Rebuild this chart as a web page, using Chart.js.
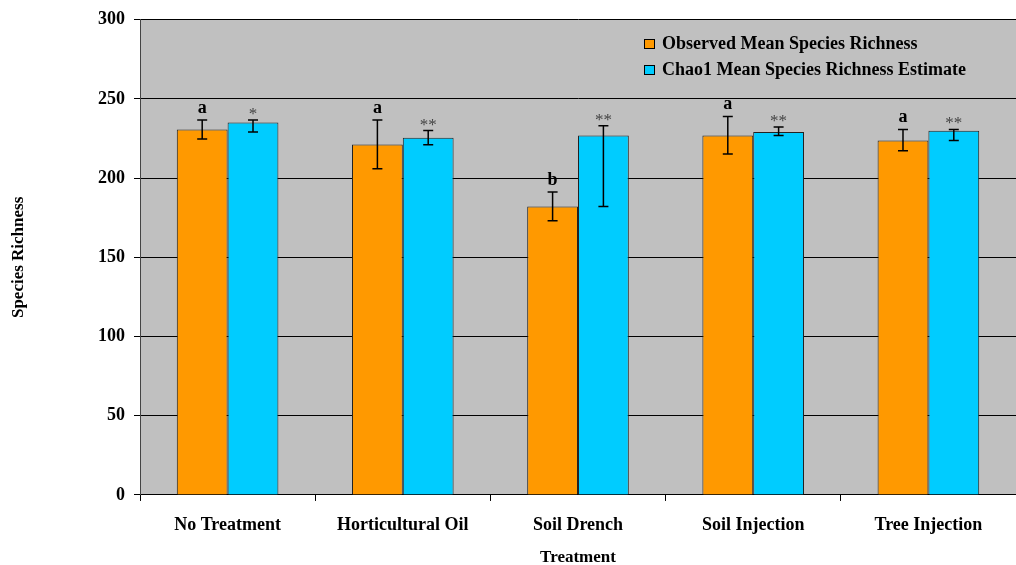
<!DOCTYPE html>
<html lang="en">
<head>
    <meta charset="UTF-8">
    <title>Species Richness by Treatment</title>
    <script src="https://cdn.jsdelivr.net/npm/chart.js"></script>
    <style>
        body { margin: 0; background: #fff; }
    </style>
</head>
<body>
    <canvas id="richnessChart" width="1016" height="565"></canvas>

    <script>
        const treatments = ['No Treatment', 'Horticultural Oil', 'Soil Drench', 'Soil Injection', 'Tree Injection'];

        const observed = [230.7, 221.3, 182.1, 227.0, 223.8];
        const observedLow = [224.7, 205.9, 173.1, 215.2, 217.3];
        const observedHigh = [236.7, 236.7, 191.2, 239.0, 230.8];
        const observedLetters = ['a', 'a', 'b', 'a', 'a'];

        const chao1 = [235.2, 225.5, 227.0, 229.1, 229.9];
        const chao1Low = [229.1, 221.1, 182.1, 227.0, 223.8];
        const chao1High = [236.7, 230.1, 233.1, 232.3, 230.8];
        const chao1Stars = ['*', '**', '**', '**', '**'];

        const yTicks = [0, 50, 100, 150, 200, 250, 300];

        const serif = "'Liberation Serif', 'Times New Roman', serif";

        // grey plot background
        const plotBg = {
            id: 'plotBg',
            beforeDraw(chart) {
                const a = chart.chartArea, ctx = chart.ctx;
                ctx.save();
                ctx.fillStyle = '#c0c0c0';
                ctx.fillRect(a.left, a.top, a.right - a.left, a.bottom - a.top);
                ctx.restore();
            }
        };

        // error bars + significance labels
        const errorBars = {
            id: 'errorBars',
            afterDatasetsDraw(chart) {
                const ctx = chart.ctx, y = chart.scales.y;
                const sets = [
                    { low: observedLow, high: observedHigh, text: observedLetters, font: 'bold 18px ' + serif, color: '#000', gap: 7 },
                    { low: chao1Low, high: chao1High, text: chao1Stars, font: '17px ' + serif, color: '#444', gap: 1 }
                ];
                ctx.save();
                sets.forEach((s, di) => {
                    chart.getDatasetMeta(di).data.forEach((bar, i) => {
                        const yl = y.getPixelForValue(s.low[i]);
                        const yh = y.getPixelForValue(s.high[i]);
                        ctx.strokeStyle = '#000';
                        ctx.lineWidth = 1.5;
                        ctx.beginPath();
                        ctx.moveTo(bar.x, yl); ctx.lineTo(bar.x, yh);
                        ctx.moveTo(bar.x - 5, yl); ctx.lineTo(bar.x + 5, yl);
                        ctx.moveTo(bar.x - 5, yh); ctx.lineTo(bar.x + 5, yh);
                        ctx.stroke();
                        ctx.font = s.font;
                        ctx.fillStyle = s.color;
                        ctx.textAlign = 'center';
                        ctx.textBaseline = 'alphabetic';
                        ctx.fillText(s.text[i], bar.x, yh - s.gap);
                    });
                });
                ctx.restore();
            }
        };

        // legend inside the plot, top right
        const insideLegend = {
            id: 'insideLegend',
            afterDraw(chart) {
                const ctx = chart.ctx;
                const items = chart.data.datasets;
                ctx.save();
                ctx.font = 'bold 18px ' + serif;
                ctx.textBaseline = 'middle';
                ctx.textAlign = 'left';
                items.forEach((ds, i) => {
                    const cy = 44 + i * 26;
                    ctx.fillStyle = ds.backgroundColor;
                    ctx.fillRect(644.5, cy - 4.5, 10, 9);
                    ctx.strokeStyle = '#000';
                    ctx.lineWidth = 1;
                    ctx.strokeRect(644.5, cy - 4.5, 10, 9);
                    ctx.fillStyle = '#000';
                    ctx.fillText(ds.label, 662, cy);
                });
                ctx.restore();
            }
        };

        const ctx = document.getElementById('richnessChart').getContext('2d');
        new Chart(ctx, {
            type: 'bar',
            data: {
                labels: treatments,
                datasets: [{
                    label: 'Observed Mean Species Richness',
                    data: observed,
                    backgroundColor: '#ff9900',
                    borderColor: '#222',
                    borderWidth: 1
                }, {
                    label: 'Chao1 Mean Species Richness Estimate',
                    data: chao1,
                    backgroundColor: '#00ccff',
                    borderColor: '#222',
                    borderWidth: 1
                }]
            },
            options: {
                responsive: false,
                animation: false,
                layout: { padding: { top: 18, right: 0, left: 0, bottom: 0 } },
                datasets: { bar: { categoryPercentage: 0.58, barPercentage: 1.0 } },
                plugins: {
                    legend: { display: false },
                    tooltip: { enabled: false }
                },
                scales: {
                    x: {
                        grid: { display: true, offset: true, drawOnChartArea: false, color: '#000', tickLength: 6 },
                        border: { color: '#000', width: 1 },
                        ticks: { color: '#000', font: { family: serif, size: 18, weight: 'bold' }, padding: 14, maxRotation: 0 },
                        title: {
                            display: true, text: 'Treatment', color: '#000',
                            font: { family: serif, size: 17, weight: 'bold', lineHeight: 0.85 },
                            padding: { top: 0, bottom: 0 }
                        }
                    },
                    y: {
                        min: 0, max: 300,
                        afterBuildTicks: s => { s.ticks = yTicks.map(v => ({ value: v })); },
                        afterFit: s => { s.width = 140; },
                        grid: { color: '#000', tickLength: 6, lineWidth: 1 },
                        border: { color: '#444', width: 1 },
                        ticks: { color: '#000', font: { family: serif, size: 18, weight: 'bold' }, padding: 9 },
                        title: {
                            display: true, text: 'Species Richness', color: '#000',
                            font: { family: serif, size: 17, weight: 'bold', lineHeight: 1.0 },
                            padding: { top: 10, bottom: 0 }
                        }
                    }
                }
            },
            plugins: [plotBg, errorBars, insideLegend]
        });
    </script>
</body>
</html>
